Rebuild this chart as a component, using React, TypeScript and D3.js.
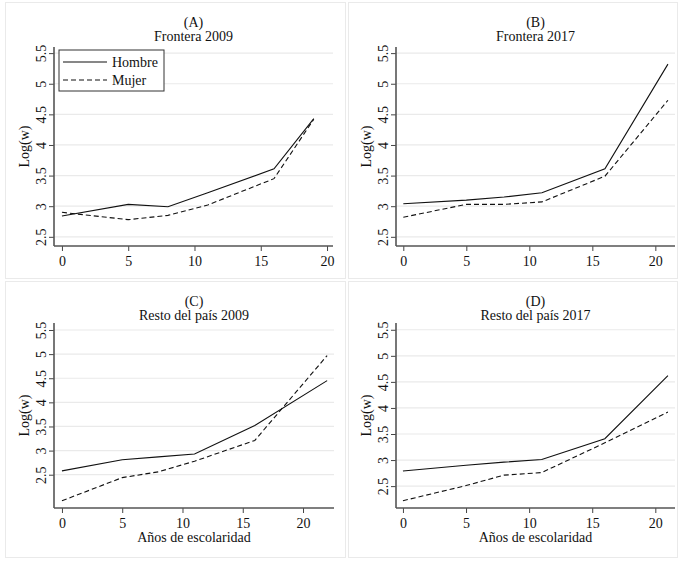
import React, { useEffect, useRef } from 'react';
import * as d3 from 'd3';

// panel headers
const panelLabels = ['(A)', '(B)', '(C)', '(D)'];
const panelTitles = ['Frontera 2009', 'Frontera 2017', 'Resto del país 2009', 'Resto del país 2017'];
const seriesNames = ['Hombre', 'Mujer'];
const yTicks = [2.5, 3, 3.5, 4, 4.5, 5, 5.5];
const xTicks = [0, 5, 10, 15, 20];

// years of schooling and log wage by panel
const schoolingA = [0, 5, 8, 11, 16, 19];
const hombreA = [2.84, 3.03, 2.99, 3.22, 3.61, 4.43];
const mujerA = [2.9, 2.78, 2.85, 3.02, 3.45, 4.42];

const schoolingB = [0, 5, 8, 11, 16, 21];
const hombreB = [3.04, 3.1, 3.15, 3.22, 3.61, 5.32];
const mujerB = [2.82, 3.03, 3.03, 3.07, 3.49, 4.73];

const schoolingC = [0, 5, 8, 11, 16, 22];
const hombreC = [2.58, 2.81, 2.87, 2.93, 3.52, 4.45];
const mujerC = [1.96, 2.44, 2.56, 2.78, 3.21, 4.97];

const schoolingD = [0, 5, 8, 11, 16, 21];
const hombreD = [2.79, 2.9, 2.96, 3.01, 3.41, 4.62];
const mujerD = [2.22, 2.51, 2.71, 2.76, 3.33, 3.92];

const W = 695;
const H = 566;
const FONT = 'Liberation Serif, Times New Roman, serif';
const FS = '14px';

interface PanelLayout {
  box: [number, number, number, number];
  plot: { left: number; right: number; top: number; bottom: number };
  xDomain: [number, number];
  yDomain: [number, number];
  xLabel: boolean;
  legend: boolean;
}

const layouts: PanelLayout[] = [
  { box: [5, 2, 345, 278], plot: { left: 54, right: 333, top: 47, bottom: 246 }, xDomain: [-0.6, 20.45], yDomain: [2.35, 5.6], xLabel: false, legend: true },
  { box: [348, 2, 677, 278], plot: { left: 396, right: 675, top: 47, bottom: 246 }, xDomain: [-0.58, 21.56], yDomain: [2.35, 5.6], xLabel: false, legend: false },
  { box: [5, 281, 345, 557], plot: { left: 54, right: 334, top: 323, bottom: 508 }, xDomain: [-0.66, 22.57], yDomain: [1.81, 5.645], xLabel: true, legend: false },
  { box: [348, 281, 677, 557], plot: { left: 396, right: 675, top: 323, bottom: 508 }, xDomain: [-0.55, 21.56], yDomain: [2.08, 5.63], xLabel: true, legend: false },
];

const panelData = [
  { x: schoolingA, h: hombreA, m: mujerA },
  { x: schoolingB, h: hombreB, m: mujerB },
  { x: schoolingC, h: hombreC, m: mujerC },
  { x: schoolingD, h: hombreD, m: mujerD },
];

const App: React.FC = () => {
  const ref = useRef<SVGSVGElement>(null);

  useEffect(() => {
    if (!ref.current) return;
    document.body.style.margin = '0';
    const svg = d3.select(ref.current)
      .attr('font-family', FONT)
      .attr('font-size', FS);
    svg.selectAll('*').remove();

    svg.append('rect').attr('width', W).attr('height', H).attr('fill', '#fff');

    layouts.forEach((L, i) => {
      const d = panelData[i];
      const g = svg.append('g');
      const [bx0, by0, bx1, by1] = L.box;

      // panel frame
      g.append('rect')
        .attr('x', bx0 + 0.5)
        .attr('y', by0 + 0.5)
        .attr('width', bx1 - bx0)
        .attr('height', by1 - by0)
        .attr('fill', '#fff')
        .attr('stroke', '#eaeaea')
        .attr('stroke-width', 1);

      const x = d3.scaleLinear().domain(L.xDomain).range([L.plot.left, L.plot.right]);
      const y = d3.scaleLinear().domain(L.yDomain).range([L.plot.bottom, L.plot.top]);

      // gridlines
      g.selectAll('.grid')
        .data(yTicks)
        .enter()
        .append('line')
        .attr('x1', L.plot.left)
        .attr('x2', L.plot.right)
        .attr('y1', (t) => y(t))
        .attr('y2', (t) => y(t))
        .attr('stroke', '#eaeaea')
        .attr('stroke-width', 1.2);

      // y axis
      const yAxis = g.append('g')
        .attr('transform', `translate(${L.plot.left},0)`)
        .call(d3.axisLeft(y).tickValues(yTicks).tickSize(5).tickFormat((v) => String(v)));
      yAxis.attr('font-family', FONT).attr('font-size', FS);
      yAxis.select('.domain').remove();
      yAxis.selectAll('.tick line').attr('stroke', '#444').attr('stroke-width', 1);
      yAxis.selectAll('.tick text')
        .attr('transform', 'rotate(-90)')
        .attr('x', 0)
        .attr('y', -8)
        .attr('dy', 0)
        .attr('text-anchor', 'middle')
        .attr('fill', '#111');
      g.append('line')
        .attr('x1', L.plot.left)
        .attr('x2', L.plot.left)
        .attr('y1', L.plot.top)
        .attr('y2', L.plot.bottom)
        .attr('stroke', '#555')
        .attr('stroke-width', 1.6);

      // x axis
      const xAxis = g.append('g')
        .attr('transform', `translate(0,${L.plot.bottom})`)
        .call(d3.axisBottom(x).tickValues(xTicks).tickSize(5).tickFormat((v) => String(v)));
      xAxis.attr('font-family', FONT).attr('font-size', FS);
      xAxis.select('.domain').remove();
      xAxis.selectAll('.tick line').attr('stroke', '#444').attr('stroke-width', 1);
      xAxis.selectAll('.tick text')
        .attr('y', 10)
        .attr('dy', '0.71em')
        .attr('fill', '#111');
      g.append('line')
        .attr('x1', L.plot.left)
        .attr('x2', L.plot.right)
        .attr('y1', L.plot.bottom)
        .attr('y2', L.plot.bottom)
        .attr('stroke', '#555')
        .attr('stroke-width', 1.6);

      const cx = (L.plot.left + L.plot.right) / 2;

      // titles
      g.append('text')
        .attr('x', cx)
        .attr('y', by0 + 25)
        .attr('text-anchor', 'middle')
        .attr('fill', '#111')
        .text(panelLabels[i]);
      g.append('text')
        .attr('x', cx)
        .attr('y', by0 + 39)
        .attr('text-anchor', 'middle')
        .attr('fill', '#111')
        .text(panelTitles[i]);

      // y label
      g.append('text')
        .attr('transform', `translate(${L.plot.left - 25},${(L.plot.top + L.plot.bottom) / 2}) rotate(-90)`)
        .attr('text-anchor', 'middle')
        .attr('fill', '#111')
        .text('Log(w)');

      if (L.xLabel) {
        g.append('text')
          .attr('x', cx)
          .attr('y', L.plot.bottom + 34)
          .attr('text-anchor', 'middle')
          .attr('fill', '#111')
          .text('Años de escolaridad');
      }

      // lines
      const line = d3.line<[number, number]>()
        .x((p) => x(p[0]))
        .y((p) => y(p[1]));

      const hPts = d.x.map((v, k) => [v, d.h[k]] as [number, number]);
      const mPts = d.x.map((v, k) => [v, d.m[k]] as [number, number]);

      g.append('path')
        .attr('d', line(mPts))
        .attr('fill', 'none')
        .attr('stroke', '#111')
        .attr('stroke-width', 1.1)
        .attr('stroke-dasharray', '5,3');
      g.append('path')
        .attr('d', line(hPts))
        .attr('fill', 'none')
        .attr('stroke', '#111')
        .attr('stroke-width', 1.1);

      if (L.legend) {
        const lg = g.append('g').attr('transform', `translate(${L.plot.left + 5},${L.plot.top + 3})`);
        lg.append('rect')
          .attr('width', 105)
          .attr('height', 41)
          .attr('fill', '#fff')
          .attr('stroke', '#333')
          .attr('stroke-width', 1);
        seriesNames.forEach((name, k) => {
          const ly = 12 + k * 18;
          lg.append('line')
            .attr('x1', 4)
            .attr('x2', 48)
            .attr('y1', ly)
            .attr('y2', ly)
            .attr('stroke', '#111')
            .attr('stroke-width', 1.1)
            .attr('stroke-dasharray', k === 1 ? '5,3' : null);
          lg.append('text')
            .attr('x', 53)
            .attr('y', ly + 5)
            .attr('fill', '#111')
            .text(name);
        });
      }
    });
  }, []);

  return <svg ref={ref} width={W} height={H} style={{ display: 'block' }}></svg>;
};

export default App;
